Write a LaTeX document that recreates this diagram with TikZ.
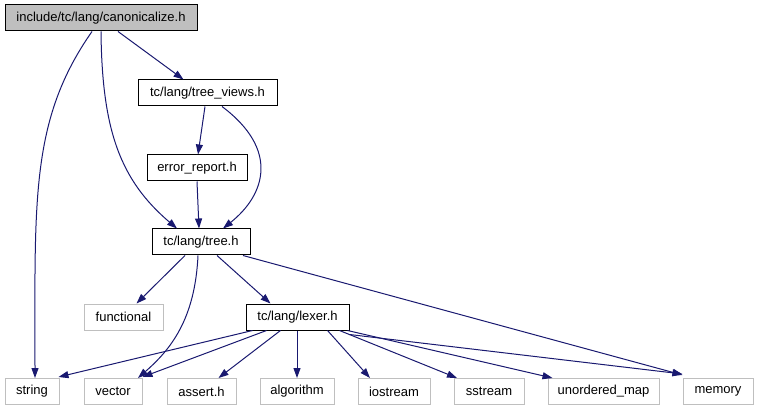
\documentclass[tikz,border=0pt]{standalone}
\usepackage{fontspec}
\setmainfont{Liberation Sans}
\usetikzlibrary{arrows.meta}
\definecolor{edgec}{HTML}{191970}
\definecolor{leafc}{HTML}{BFBFBF}
\begin{document}
\begin{tikzpicture}[x=1pt,y=-1pt,
  box/.style={draw=black,line width=1pt,rectangle,minimum height=26pt,inner sep=0pt,font=\fontsize{13}{15}\selectfont},
  rootbox/.style={box,fill=leafc},
  leaf/.style={box,draw=leafc},
  dep/.style={draw=edgec,line width=1pt,-{Triangle[length=10pt,width=7pt]}}]
\useasboundingbox (0,0) rectangle (759,411);
\node[rootbox,minimum width=192pt] (canon) at (101,18) {include/tc/lang/canonicalize.h};
\node[box,minimum width=139pt] (views) at (207.5,93) {tc/lang/tree\_views.h};
\node[box,minimum width=100pt] (err) at (197,168) {error\_report.h};
\node[box,minimum width=98pt] (tree) at (201,242) {tc/lang/tree.h};
\node[leaf,minimum width=79pt] (func) at (123.5,317) {functional};
\node[box,minimum width=103pt] (lexer) at (297.5,317) {tc/lang/lexer.h};
\node[leaf,minimum width=54pt] (string) at (32,391.5) {string};
\node[leaf,minimum width=58pt] (vector) at (113,391.5) {vector};
\node[leaf,minimum width=69pt] (assert) at (201.5,391.5) {assert.h};
\node[leaf,minimum width=74pt] (algo) at (297,391.5) {algorithm};
\node[leaf,minimum width=72pt] (iostr) at (394,391.5) {iostream};
\node[leaf,minimum width=70pt] (sstr) at (489,391.5) {sstream};
\node[leaf,minimum width=111pt] (umap) at (603.5,391.5) {unordered\_map};
\node[leaf,minimum width=70pt] (mem) at (718,391.5) {memory};

\draw[dep] ([xshift=17pt]canon.south) -- ([xshift=-24pt]views.north);
\draw[dep] ([xshift=0pt]canon.south) .. controls (102,130) and (120,180) .. ([xshift=-24pt]tree.north);
\draw[dep] ([xshift=-9pt]canon.south) .. controls (30,120) and (35,200) .. ([xshift=3pt]string.north);
\draw[dep] ([xshift=-2.5pt]views.south) -- ([xshift=1pt]err.north);
\draw[dep] ([xshift=14.5pt]views.south) .. controls (280,150) and (265,195) .. ([xshift=22pt]tree.north);
\draw[dep] (err.south) -- ([xshift=-2pt]tree.north);
\draw[dep] ([xshift=-16pt]tree.south) -- ([xshift=13pt]func.north);
\draw[dep] ([xshift=-3pt]tree.south) .. controls (195,320) and (170,350) .. ([xshift=25pt]vector.north);
\draw[dep] ([xshift=16pt]tree.south) -- ([xshift=-27pt]lexer.north);
\draw[dep] ([xshift=42pt]tree.south) -- ([yshift=3pt]mem.north west);
\draw[dep] ([xshift=-45pt]lexer.south) -- ([xshift=-1pt,yshift=1pt]string.north east);
\draw[dep] ([xshift=-31pt]lexer.south) -- ([xshift=0pt,yshift=1pt]vector.north east);
\draw[dep] ([xshift=-17pt]lexer.south) -- ([xshift=17pt]assert.north);
\draw[dep] ([xshift=-0.5pt]lexer.south) -- (algo.north);
\draw[dep] ([xshift=30pt]lexer.south) -- ([xshift=-24pt]iostr.north);
\draw[dep] ([xshift=-10pt]lexer.south east) -- ([xshift=-32pt]sstr.north);
\draw[dep] ([xshift=-2pt]lexer.south east) -- ([xshift=-51pt]umap.north);
\draw[dep] ([yshift=-4pt]lexer.south east) -- ([yshift=4pt]mem.north west);
\end{tikzpicture}
\end{document}
